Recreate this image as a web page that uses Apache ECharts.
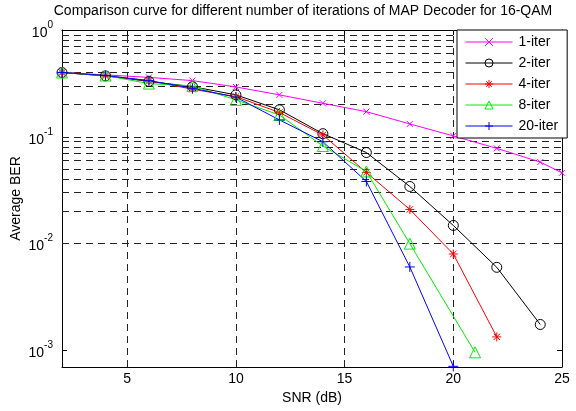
<!DOCTYPE html>
<html>
<head>
<meta charset="utf-8">
<script src="https://cdn.jsdelivr.net/npm/echarts@6/dist/echarts.min.js"></script>
<style>
  html, body { margin: 0; padding: 0; background: #fff; }
  #chart { width: 576px; height: 411px; }
</style>
</head>
<body>
<div id="chart"></div>
<script>
// SNR points (dB) for each decoder run
const snr1  = [2, 4, 6, 8, 10, 12, 14, 16, 18, 20, 22, 24, 25];
const snr2  = [2, 4, 6, 8, 10, 12, 14, 16, 18, 20, 22, 24];
const snr4  = [2, 4, 6, 8, 10, 12, 14, 16, 18, 20, 22];
const snr8  = [2, 4, 6, 8, 10, 12, 14, 16, 18, 21];
const snr20 = [2, 4, 6, 8, 10, 12, 14, 16, 18, 20];

// Average BER for each iteration count
const ber1  = [0.40, 0.38, 0.36, 0.336, 0.293, 0.247, 0.206, 0.172, 0.132, 0.102, 0.078, 0.058, 0.046];
const ber2  = [0.40, 0.372, 0.33, 0.295, 0.247, 0.179, 0.107, 0.0713, 0.0343, 0.0148, 0.0060, 0.00175];
const ber4  = [0.40, 0.372, 0.335, 0.279, 0.238, 0.169, 0.104, 0.0464, 0.0209, 0.0080, 0.00134];
const ber8  = [0.40, 0.375, 0.315, 0.30, 0.222, 0.16, 0.082, 0.0474, 0.0100, 0.00096];
const ber20 = [0.40, 0.375, 0.336, 0.285, 0.235, 0.144, 0.090, 0.0382, 0.00605, 0.00071];

const seriesNames = ['1-iter', '2-iter', '4-iter', '8-iter', '20-iter'];

// Axis ranges
const xMin = 2, xMax = 25;
const yMin = 7e-4, yMax = 1;
const xGridValues = [5, 10, 15, 20];

// log-style grid lines: every 1..9 x 10^k inside the y range
const yGridValues = [];
for (let e = -4; e <= 0; e++) {
  for (let m = 1; m <= 9; m++) {
    const v = m * Math.pow(10, e);
    if (v > yMin * 1.0001 && v < yMax * 0.9999) yGridValues.push(v);
  }
}

const FONT = 'Liberation Sans, Arial, sans-serif';

const pair = (xs, ys) => xs.map((x, i) => [x, ys[i]]);

const gridStyle = { color: '#222', width: 1, type: [7, 5] };

function lineSeries(name, xs, ys, color, symbol, size) {
  return {
    name: name,
    type: 'line',
    data: pair(xs, ys),
    symbol: symbol,
    symbolSize: size,
    showAllSymbol: true,
    clip: true,
    z: 3,
    lineStyle: { color: color, width: 1 },
    itemStyle: { color: 'rgba(0,0,0,0)', borderColor: color, borderWidth: 1 },
    emphasis: { disabled: true },
    animation: false
  };
}

const xMark = 'path://M0,0L10,10M10,0L0,10';
const starMark = 'path://M5,0L5,10M0,5L10,5M1.5,1.5L8.5,8.5M8.5,1.5L1.5,8.5';
const plusMark = 'path://M5,0L5,10M0,5L10,5';

function supLabel(v) {
  const lg = Math.log10(v);
  const e = Math.round(lg);
  if (Math.abs(lg - e) > 1e-6) return '';
  return '{b|10}{s|' + e + '}';
}

const chart = echarts.init(document.getElementById('chart'), null, { renderer: 'canvas' });

chart.setOption({
  animation: false,
  backgroundColor: '#fff',
  textStyle: { fontFamily: FONT },
  grid: { left: 62, right: 14, top: 30, bottom: 44, containLabel: false, outerBoundsMode: 'none' },
  graphic: [{
    type: 'text',
    x: 303, y: 4,
    z: 10,
    style: {
      text: 'Comparison curve for different number of iterations of MAP Decoder for 16-QAM',
      font: '14px ' + FONT,
      fill: '#000',
      textAlign: 'center',
      textVerticalAlign: 'top'
    }
  }],
  legend: {
    orient: 'vertical',
    left: 457, top: 30,
    z: 20,
    itemWidth: 47, itemHeight: 10,
    itemGap: 7,
    padding: [5, 9, 5, 8],
    backgroundColor: '#fff',
    borderColor: '#000', borderWidth: 1,
    borderRadius: 0,
    lineStyle: { width: 1 },
    itemStyle: { borderWidth: 1 },
    data: seriesNames,
    textStyle: { fontFamily: FONT, fontSize: 14, color: '#000', padding: [0, 0, 0, 1] },
    selectedMode: false
  },
  xAxis: [{
    type: 'value', min: xMin, max: xMax, splitNumber: 5,
    name: 'SNR (dB)', nameLocation: 'middle', nameGap: 24,
    nameTextStyle: { fontFamily: FONT, fontSize: 14, color: '#000' },
    axisLine: { show: true, onZero: false, lineStyle: { color: '#000', width: 1 } },
    axisTick: { show: true, inside: true, length: 5, lineStyle: { color: '#000' } },
    axisLabel: { showMinLabel: false, color: '#000', fontSize: 14, fontFamily: FONT, margin: 5 },
    splitLine: { show: false }
  }, {
    type: 'value', min: xMin, max: xMax, splitNumber: 5, position: 'top',
    axisLine: { show: true, onZero: false, lineStyle: { color: '#000', width: 1 } },
    axisTick: { show: true, inside: true, length: 5, lineStyle: { color: '#000' } },
    axisLabel: { show: false },
    splitLine: { show: false }
  }],
  yAxis: [{
    type: 'log', logBase: 10, min: yMin, max: yMax,
    name: 'Average BER', nameLocation: 'middle', nameGap: 39,
    nameMoveOverlap: false,
    nameTextStyle: { fontFamily: FONT, fontSize: 14, color: '#000' },
    axisLine: { show: true, onZero: false, lineStyle: { color: '#000', width: 1 } },
    axisTick: { show: true, inside: true, length: 5, lineStyle: { color: '#000' } },
    axisLabel: {
      color: '#000', margin: 9, formatter: supLabel,
      rich: {
        b: { fontSize: 14, fontFamily: FONT, color: '#000', lineHeight: 20, verticalAlign: 'bottom' },
        s: { fontSize: 10, fontFamily: FONT, color: '#000', lineHeight: 20, verticalAlign: 'top' }
      }
    },
    splitLine: { show: false }
  }, {
    type: 'log', logBase: 10, min: yMin, max: yMax, position: 'right',
    axisLine: { show: true, onZero: false, lineStyle: { color: '#000', width: 1 } },
    axisTick: { show: true, inside: true, length: 5, lineStyle: { color: '#000' } },
    axisLabel: { show: false },
    splitLine: { show: false }
  }],
  series: [
    {
      // dashed grid drawn beneath the curves
      name: 'grid',
      type: 'line',
      data: [],
      z: 1,
      silent: true,
      markLine: {
        silent: true,
        z: 1,
        symbol: 'none',
        animation: false,
        label: { show: false },
        lineStyle: gridStyle,
        emphasis: { disabled: true },
        data: xGridValues.map(v => ({ xAxis: v })).concat(yGridValues.map(v => ({ yAxis: v })))
      }
    },
    lineSeries('1-iter', snr1, ber1, '#ff00ff', xMark, 6),
    lineSeries('2-iter', snr2, ber2, '#000000', 'circle', 10),
    lineSeries('4-iter', snr4, ber4, '#ff0000', starMark, 9),
    lineSeries('8-iter', snr8, ber8, '#00ee00', 'triangle', 11),
    lineSeries('20-iter', snr20, ber20, '#0000ff', plusMark, 10)
  ]
});
</script>
</body>
</html>
